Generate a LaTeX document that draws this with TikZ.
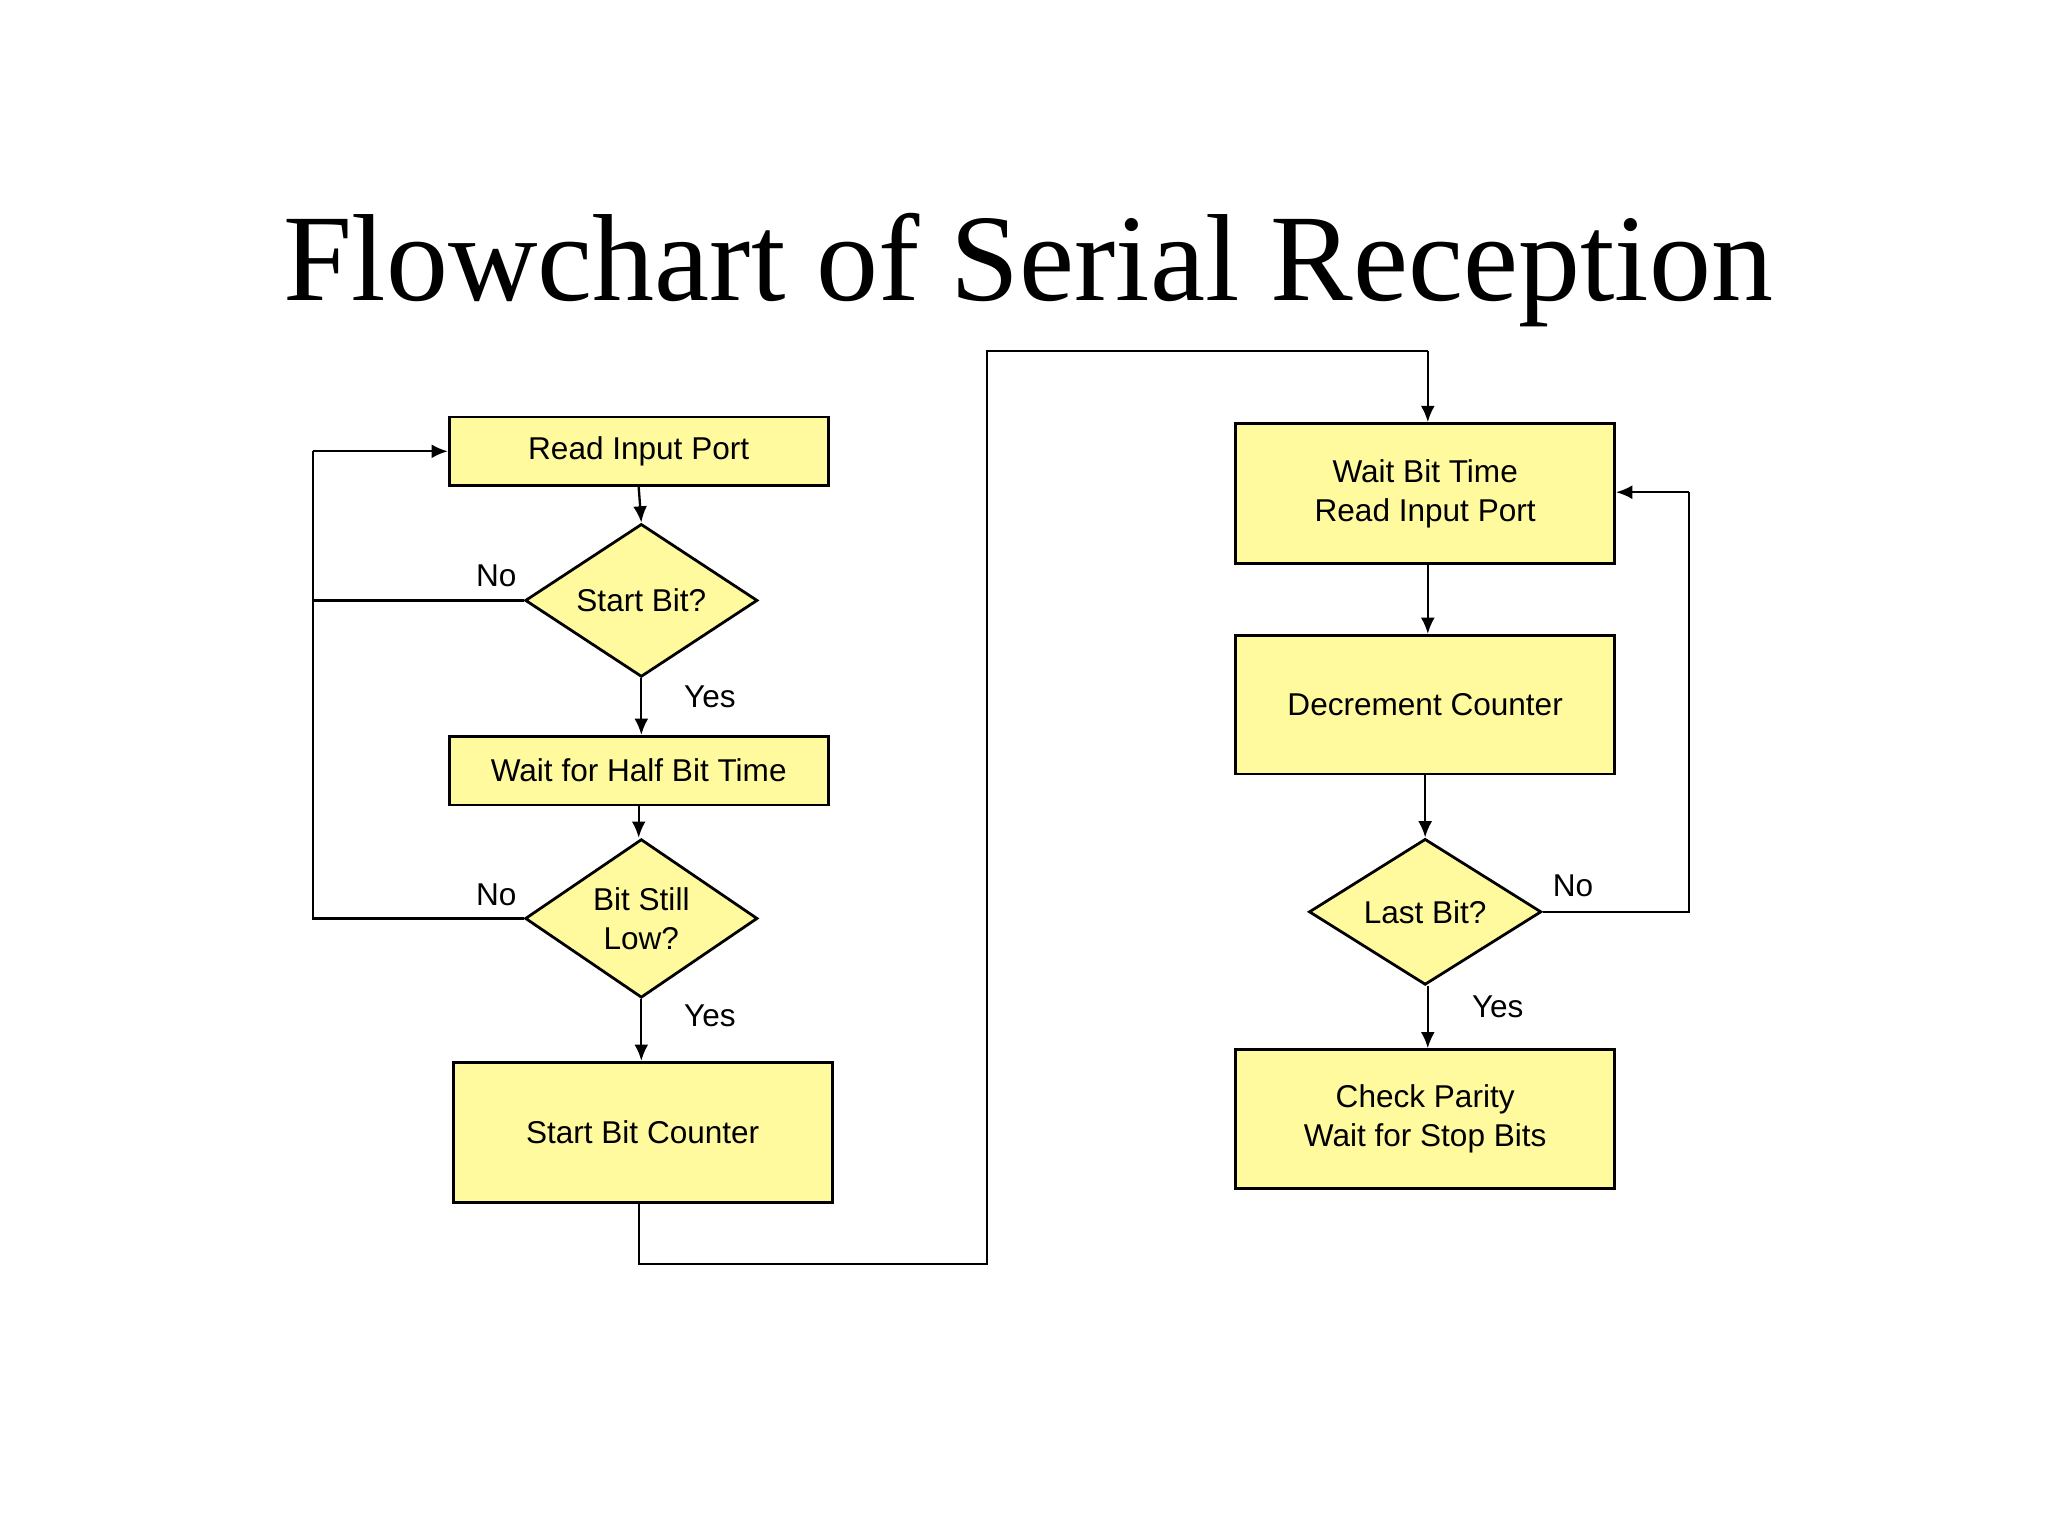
\documentclass[tikz,border=0pt]{standalone}
\usepackage{fontspec}
\setmainfont{Liberation Serif}
\newfontfamily\arial{Liberation Sans}
\usetikzlibrary{shapes.geometric,arrows.meta}
\definecolor{boxy}{HTML}{FFFA9E}
\begin{document}
\begin{tikzpicture}[x=0.01cm,y=-0.01cm,
  box/.style={draw,fill=boxy,line width=0.6pt,font=\arial\fontsize{6.8}{8.4}\selectfont,align=center,inner sep=0},
  dia/.style={draw,fill=boxy,diamond,line width=0.6pt,minimum width=1.76cm,minimum height=1.02cm,inner sep=0,font=\arial\fontsize{6.8}{8.4}\selectfont,align=center},
  lbl/.style={font=\arial\fontsize{6.8}{8.4}\selectfont},
  ln/.style={line width=0.5pt},
  ar/.style={ln,-{Latex[length=3.5pt,width=3pt]}}]
\useasboundingbox (0,0) rectangle (1552,1164);
\node (title) at (779,205) {\fontsize{26.7}{30}\selectfont Flowchart of Serial Reception};
\node[box,minimum width=2.87cm,minimum height=0.52cm] (rip) at (484,342) {Read Input Port};
\node[dia] (sb) at (486,455) {Start Bit?};
\node[box,minimum width=2.87cm,minimum height=0.52cm] (wh) at (484,584) {Wait for Half Bit Time};
\node[dia] (bl) at (486,696) {Bit Still\\Low?};
\node[box,minimum width=2.87cm,minimum height=1.06cm] (sbc) at (487,858) {Start Bit Counter};
\node[box,minimum width=2.87cm,minimum height=1.06cm] (wbt) at (1080,374) {Wait Bit Time\\Read Input Port};
\node[box,minimum width=2.87cm,minimum height=1.05cm] (dc) at (1080,534) {Decrement Counter};
\node[dia] (lb) at (1080,691) {Last Bit?};
\node[box,minimum width=2.87cm,minimum height=1.05cm] (cp) at (1080,848) {Check Parity\\Wait for Stop Bits};
\coordinate (l1) at (237,455);
\coordinate (l2) at (237,696);
\coordinate (l3) at (237,342);
\coordinate (b1) at (484,958);
\coordinate (b2) at (748,958);
\coordinate (b3) at (748,266);
\coordinate (b4) at (1082,266);
\coordinate (r1) at (1280,691);
\coordinate (r2) at (1280,373);
\draw[ar] (rip.south -| 484,0) -- (sb.north);
\draw[ar] (sb.south) -- (wh.north -| sb.south);
\draw[ar] (wh.south) -- (bl.north -| wh.south);
\draw[ar] (bl.south) -- (sbc.north -| bl.south);
\draw[ln] (sb.west) -- (l1);
\draw[ln] (bl.west) -- (l2) -- (l3);
\draw[ar] (l3) -- (rip.west);
\draw[ln] (sbc.south -| b1) -- (b1) -- (b2) -- (b3) -- (b4);
\draw[ar] (b4) -- (wbt.north -| b4);
\draw[ar] (wbt.south -| b4) -- (dc.north -| b4);
\draw[ar] (dc.south) -- (lb.north);
\draw[ar] (lb.south -| b4) -- (cp.north -| b4);
\draw[ln] (lb.east) -- (r1) -- (r2);
\draw[ar] (r2) -- (wbt.east |- r2);
\node[lbl] at (376,436) {No};
\node[lbl] at (376,678) {No};
\node[lbl] at (538,528) {Yes};
\node[lbl] at (538,770) {Yes};
\node[lbl] at (1192,671) {No};
\node[lbl] at (1135,763) {Yes};
\end{tikzpicture}
\end{document}
